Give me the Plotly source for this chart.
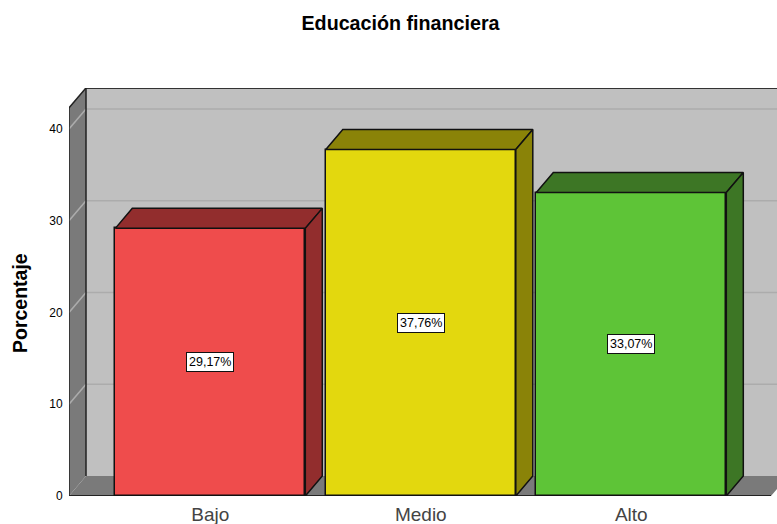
import plotly.graph_objects as go

categories = ["Bajo", "Medio", "Alto"]
values = [29.17, 37.76, 33.07]
labels = ["29,17%", "37,76%", "33,07%"]
front_colors = ["#ef4c4c", "#e3d80e", "#5ec437"]
dark_colors = ["#922d2d", "#8a8308", "#3d7625"]
y_ticks = [0, 10, 20, 30, 40]

WIDTH, HEIGHT = 777, 524
PLOT_L, PLOT_R, PLOT_T, PLOT_B = 69, 777, 88, 496
PX_X = 210.5
PX_Y = 9.175
CENTER0 = 210.3
BAR_W = 190 / PX_X
DX = 17 / PX_X
DY = 20 / PX_Y
X0 = (PLOT_L - CENTER0) / PX_X
X1 = (PLOT_R - CENTER0) / PX_X
Y1 = (PLOT_B - PLOT_T) / PX_Y
FLOOR_END = (771 - CENTER0) / PX_X
EDGE = "#111111"
positions = list(range(len(categories)))


def path(points):
    return "M " + " L ".join(f"{x},{y}" for x, y in points) + " Z"


shapes = []


def poly(points, fill, line=None, width=1):
    shapes.append(dict(type="path", path=path(points), fillcolor=fill, layer="below",
                       line=dict(color=line or fill, width=width if line else 0)))


def seg(x_a, y_a, x_b, y_b, color, width):
    shapes.append(dict(type="line", x0=x_a, y0=y_a, x1=x_b, y1=y_b, layer="below",
                       line=dict(color=color, width=width)))


poly([(X0 + DX, DY), (X1 + 0.2, DY), (X1 + 0.2, Y1), (X0 + DX, Y1)], "#c0c0c0")
poly([(X0, 0), (X0 + DX, DY), (X0 + DX, Y1), (X0, Y1 - DY)], "#7a7a7a")
poly([(X0, 0), (FLOOR_END, 0), (FLOOR_END + DX, DY), (X1 + 0.2, DY), (X1 + 0.2, DY), (X0 + DX, DY)], "#7a7a7a")
for t in y_ticks + [Y1 - DY]:
    if t > 0:
        seg(X0 + DX, t + DY, X1, t + DY, "#acacac", 1.5)
        seg(X0, t, X0 + DX, t + DY, "#acacac", 1.5)
seg(X0 + DX, Y1, X1, Y1, "#333333", 2)
seg(X0, Y1 - DY, X0 + DX, Y1, "#222222", 1.5)
seg(X0, 0, X0, Y1 - DY, "#222222", 1.5)
seg(X0 + DX, DY, X0 + DX, Y1, "#222222", 1.5)
seg(X0, 0, FLOOR_END, 0, "#222222", 2)

fig = go.Figure()
fig.add_trace(go.Bar(
    x=positions, y=values, width=BAR_W,
    marker=dict(color=front_colors, line=dict(color=EDGE, width=1.5)),
    hoverinfo="skip", showlegend=False,
))

for pos, val, dark in zip(positions, values, dark_colors):
    left, right = pos - BAR_W / 2, pos + BAR_W / 2
    faces = [
        [(left, val), (right, val), (right + DX, val + DY), (left + DX, val + DY), (left, val)],
        [(right, 0), (right + DX, DY), (right + DX, val + DY), (right, val), (right, 0)],
    ]
    for face in faces:
        fig.add_trace(go.Scatter(
            x=[p[0] for p in face], y=[p[1] for p in face],
            mode="lines", fill="toself", fillcolor=dark,
            line=dict(color=EDGE, width=1.5),
            hoverinfo="skip", showlegend=False, cliponaxis=False,
        ))

annotations = [
    dict(x=pos, y=val / 2, text=lab, showarrow=False, bgcolor="white",
         bordercolor="#111111", borderwidth=1, borderpad=2,
         font=dict(family="Liberation Sans", size=12.5, color="black"))
    for pos, val, lab in zip(positions, values, labels)
]
annotations.append(dict(
    xref="paper", yref="paper", x=(20 - PLOT_L) / (PLOT_R - PLOT_L),
    y=(PLOT_B - 303) / (PLOT_B - PLOT_T), text="<b>Porcentaje</b>", textangle=-90,
    showarrow=False, xanchor="center", yanchor="middle",
    font=dict(family="Liberation Sans", size=19.5, color="black"),
))

fig.update_layout(
    width=WIDTH, height=HEIGHT, autosize=False,
    margin=dict(l=PLOT_L, r=WIDTH - PLOT_R, t=PLOT_T, b=HEIGHT - PLOT_B, pad=0),
    paper_bgcolor="white", plot_bgcolor="white",
    font=dict(family="Liberation Sans", color="black"),
    title=dict(text="<b>Educación financiera</b>", x=400.5 / WIDTH, xanchor="center",
               y=1 - 23 / HEIGHT, yanchor="middle", font=dict(size=19.7, color="black")),
    xaxis=dict(range=[X0, X1], tickmode="array", tickvals=positions, ticktext=categories,
               showgrid=False, zeroline=False, showline=False, ticks="outside", ticklen=1,
               tickcolor="rgba(0,0,0,0)", tickfont=dict(size=19, color="#444444")),
    yaxis=dict(range=[0, Y1], tickmode="array", tickvals=y_ticks,
               showgrid=False, zeroline=False, showline=False, ticks="outside", ticklen=3,
               tickcolor="rgba(0,0,0,0)", tickfont=dict(size=12, color="black")),
    shapes=shapes, annotations=annotations, bargap=0, hovermode=False,
)
fig.write_html("out.html", config=dict(displayModeBar=False),
               post_script="document.body.style.margin='0';document.body.style.overflow='hidden';")
